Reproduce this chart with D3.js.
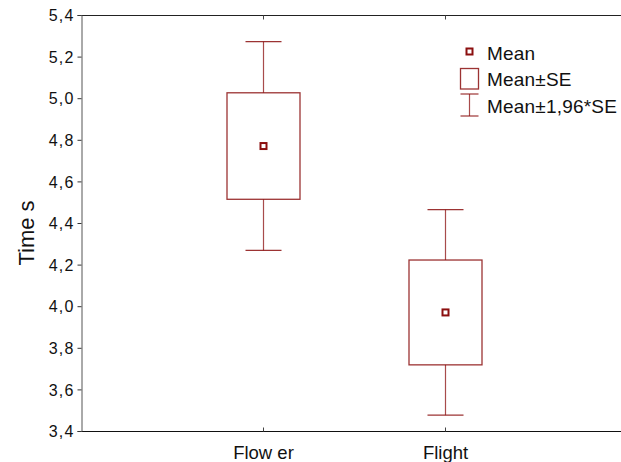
<!DOCTYPE html>
<html>
<head>
<meta charset="utf-8">
<script src="https://cdn.jsdelivr.net/npm/d3@7"></script>
<style>
  html, body { margin: 0; padding: 0; background: #fff; }
  svg { display: block; font-family: Arial, "Liberation Sans", sans-serif; }
</style>
</head>
<body>
<svg id="chart" width="621" height="462"></svg>
<script>
// Reaction time by condition: mean, box = mean ± SE, whiskers = mean ± 1.96·SE
const categories = ["Flow er", "Flight"];
const means = [4.77, 3.97];
const stdErrors = [0.256, 0.252];
const yTicks = [3.4, 3.6, 3.8, 4.0, 4.2, 4.4, 4.6, 4.8, 5.0, 5.2, 5.4];
const yLabel = "Time s";
const legendLabels = ["Mean", "Mean±SE", "Mean±1,96*SE"];

const dark = "#8b0f0f";
const svg = d3.select("#chart");

const plot = { left: 81, right: 627, top: 15, bottom: 431 };

const x = d3.scalePoint()
  .domain(categories)
  .range([plot.left, plot.right])
  .padding(1);

const y = d3.scaleLinear()
  .domain([3.4, 5.4])
  .range([plot.bottom, plot.top]);

const fmt = d => d3.format(".1f")(d).replace(".", ",");

// frame lines: top and bottom run off the right edge
svg.append("line")
  .attr("x1", plot.left).attr("x2", plot.right)
  .attr("y1", plot.top + 0.5).attr("y2", plot.top + 0.5)
  .attr("stroke", "#222").attr("stroke-width", 1);
svg.append("line")
  .attr("x1", plot.left).attr("x2", plot.right)
  .attr("y1", plot.bottom + 0.5).attr("y2", plot.bottom + 0.5)
  .attr("stroke", "#111").attr("stroke-width", 1);

// left axis
const yAxis = d3.axisLeft(y)
  .tickValues(yTicks)
  .tickFormat(fmt)
  .tickSize(4)
  .tickPadding(3);
const gy = svg.append("g")
  .attr("transform", `translate(${plot.left + 0.5},0)`)
  .call(yAxis);
gy.select(".domain").attr("stroke", "#555");
gy.selectAll(".tick line").attr("stroke", "#333");
gy.selectAll(".tick text")
  .attr("font-size", 16)
  .attr("letter-spacing", 1.2)
  .attr("fill", "#111")
  .attr("dy", "0.35em");

// bottom axis: inward ticks, category labels
const xAxisBottom = d3.axisBottom(x).tickSize(-4).tickPadding(14);
const gx = svg.append("g")
  .attr("transform", `translate(0,${plot.bottom + 0.5})`)
  .call(xAxisBottom);
gx.select(".domain").remove();
gx.selectAll(".tick line").attr("stroke", "#444");
gx.selectAll(".tick text")
  .attr("font-size", 18.5)
  .attr("fill", "#111");

// top axis: inward ticks only
const gxt = svg.append("g")
  .attr("transform", `translate(0,${plot.top + 0.5})`)
  .call(d3.axisTop(x).tickSize(-4).tickFormat(""));
gxt.select(".domain").remove();
gxt.selectAll(".tick line").attr("stroke", "#444");

// y axis title
svg.append("text")
  .attr("transform", `translate(34,233) rotate(-90)`)
  .attr("text-anchor", "middle")
  .attr("font-size", 22)
  .attr("fill", "#111")
  .text(yLabel);

// boxes and whiskers
const data = categories.map((c, i) => ({
  cat: c,
  mean: means[i],
  se: stdErrors[i]
}));

const boxW = 73;
const capW = 36;

const groups = svg.append("g").selectAll("g")
  .data(data)
  .join("g")
  .attr("transform", d => `translate(${Math.round(x(d.cat)) + 0.5},0)`);

// whisker stems
groups.append("line")
  .attr("x1", 0).attr("x2", 0)
  .attr("y1", d => y(d.mean + 1.96 * d.se))
  .attr("y2", d => y(d.mean + d.se))
  .attr("stroke", dark).attr("stroke-width", 1.2).attr("stroke-opacity", 0.75);
groups.append("line")
  .attr("x1", 0).attr("x2", 0)
  .attr("y1", d => y(d.mean - d.se))
  .attr("y2", d => y(d.mean - 1.96 * d.se))
  .attr("stroke", dark).attr("stroke-width", 1.2).attr("stroke-opacity", 0.75);

// whisker caps
[1, -1].forEach(s => {
  groups.append("line")
    .attr("x1", -capW / 2).attr("x2", capW / 2)
    .attr("y1", d => y(d.mean + s * 1.96 * d.se))
    .attr("y2", d => y(d.mean + s * 1.96 * d.se))
    .attr("stroke", dark).attr("stroke-width", 1.2).attr("stroke-opacity", 0.85);
});

// SE boxes
groups.append("rect")
  .attr("x", -boxW / 2)
  .attr("width", boxW)
  .attr("y", d => y(d.mean + d.se))
  .attr("height", d => y(d.mean - d.se) - y(d.mean + d.se))
  .attr("fill", "none")
  .attr("stroke", dark).attr("stroke-width", 1.3).attr("stroke-opacity", 0.85);

// mean markers
groups.append("rect")
  .attr("x", -3).attr("width", 6)
  .attr("y", d => y(d.mean) - 3).attr("height", 6)
  .attr("fill", "#fff")
  .attr("stroke", dark).attr("stroke-width", 2);

// legend
const lg = svg.append("g");
const lx = 469.5;
lg.append("rect")
  .attr("x", lx - 3).attr("y", 48.5).attr("width", 6).attr("height", 6)
  .attr("fill", "#fff").attr("stroke", dark).attr("stroke-width", 2);
lg.append("rect")
  .attr("x", lx - 9).attr("y", 68.5).attr("width", 18).attr("height", 20.5)
  .attr("fill", "none").attr("stroke", dark).attr("stroke-width", 1.3).attr("stroke-opacity", 0.85);
lg.append("line")
  .attr("x1", lx).attr("x2", lx).attr("y1", 94).attr("y2", 116)
  .attr("stroke", dark).attr("stroke-width", 1.2).attr("stroke-opacity", 0.75);
[94, 116].forEach(yy => {
  lg.append("line")
    .attr("x1", lx - 9).attr("x2", lx + 9).attr("y1", yy).attr("y2", yy)
    .attr("stroke", dark).attr("stroke-width", 1.2).attr("stroke-opacity", 0.85);
});
lg.selectAll("text.leg")
  .data(legendLabels)
  .join("text")
  .attr("class", "leg")
  .attr("x", 487)
  .attr("y", (d, i) => 59.5 + i * 26.6)
  .attr("font-size", 19)
  .attr("letter-spacing", 0.2)
  .attr("fill", "#111")
  .text(d => d);
</script>
</body>
</html>
